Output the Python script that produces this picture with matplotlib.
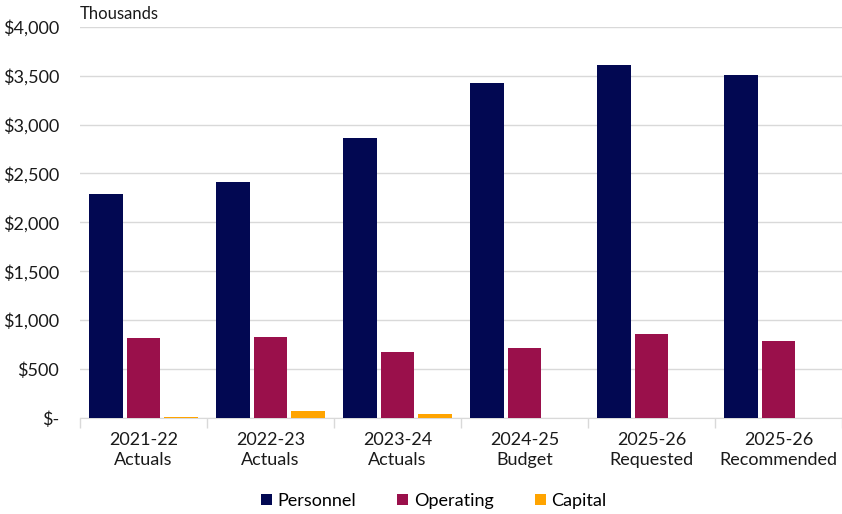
import numpy as np
import matplotlib
matplotlib.use("Agg")
import matplotlib.pyplot as plt
from matplotlib.ticker import FuncFormatter, FixedLocator

plt.rcParams['font.family'] = ['Lato', 'DejaVu Sans']

# data (thousands of dollars)
categories = ["2021-22\nActuals", "2022-23\nActuals", "2023-24\nActuals",
              "2024-25\nBudget", "2025-26\nRequested", "2025-26\nRecommended"]
personnel = [2290, 2415, 2860, 3425, 3610, 3505]
operating = [818, 825, 678, 718, 858, 788]
capital = [8, 72, 35, 0, 0, 0]

series = [("Personnel", personnel, "#020852"),
          ("Operating", operating, "#9A104B"),
          ("Capital", capital, "#FFA400")]

fig = plt.figure(figsize=(8.42, 5.14), dpi=100)
ax = fig.add_axes([0.095, 0.187, 0.905, 0.761])

x = np.arange(len(categories))
w = 0.265
gap = 0.03
for i, (name, vals, col) in enumerate(series):
    ax.bar(x + (i - 1) * (w + gap), vals, width=w, color=col, label=name, zorder=3)

ax.set_xlim(-0.5, len(categories) - 0.5)
ax.set_ylim(0, 4000)
ax.set_yticks(np.arange(0, 4001, 500))
ax.yaxis.set_major_formatter(FuncFormatter(lambda v, p: "$-" if v == 0 else "${:,.0f}".format(v)))
ax.grid(axis='y', color='#D9D9D9', linewidth=1, zorder=0)

ax.set_xticks(x)
ax.set_xticklabels(categories, fontsize=13, color='#1a1a1a', linespacing=1.3)
ax.xaxis.set_minor_locator(FixedLocator(np.arange(-0.5, len(categories), 1)))
ax.tick_params(axis='x', which='major', length=0, pad=10)
ax.tick_params(axis='x', which='minor', length=7, color='#D9D9D9', width=1)
ax.tick_params(axis='y', length=0, labelsize=13, labelcolor='#1a1a1a', pad=15)

for s in ['top', 'right', 'left']:
    ax.spines[s].set_visible(False)
ax.spines['bottom'].set_color('#D9D9D9')

fig.text(0.095, 0.958, "Thousands", fontsize=12, color='#1a1a1a', va='bottom', ha='left')

fig.legend(loc='lower center', bbox_to_anchor=(0.515, -0.022), ncol=3, frameon=False,
           fontsize=13, handlelength=0.6, handleheight=0.6, handletextpad=0.3,
           columnspacing=2.3)

fig.savefig("out.png", dpi=100)
